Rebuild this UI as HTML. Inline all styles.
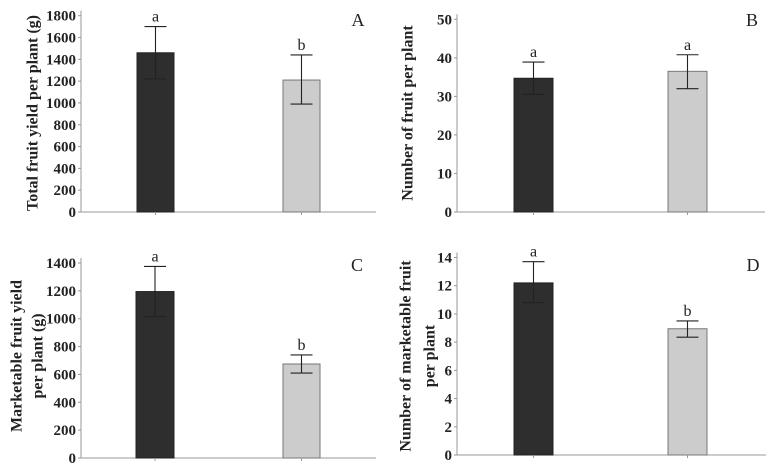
<!DOCTYPE html>
<html><head><meta charset="utf-8">
<style>
html,body{margin:0;padding:0;background:#fff;}
svg{display:block;}
svg text{font-family:"Liberation Serif","DejaVu Serif",serif;}
</style></head>
<body>
<svg id="chart" width="779" height="472" viewBox="0 0 779 472" xmlns="http://www.w3.org/2000/svg"></svg>
<script>
// Panel data (treatment 1 = dark, treatment 2 = light)
const panelIds = ["A","B","C","D"];
const meansA = [1460, 1210];
const lowA = [1220, 990];
const highA = [1700, 1440];
const lettersA = ["a","b"];
const ticksA = [0,200,400,600,800,1000,1200,1400,1600,1800];
const meansB = [34.7, 36.5];
const lowB = [30.5, 32];
const highB = [38.9, 40.8];
const lettersB = ["a","a"];
const ticksB = [0,10,20,30,40,50];
const meansC = [1195, 675];
const lowC = [1015, 610];
const highC = [1375, 740];
const lettersC = ["a","b"];
const ticksC = [0,200,400,600,800,1000,1200,1400];
const meansD = [12.2, 8.95];
const lowD = [10.8, 8.35];
const highD = [13.7, 9.5];
const lettersD = ["a","b"];
const ticksD = [0,2,4,6,8,10,12,14];
const titleA = ["Total fruit yield per plant (g)"];
const titleB = ["Number of fruit per plant"];
const titleC = ["Marketable fruit yield","per plant (g)"];
const titleD = ["Number of marketable fruit","per plant"];

const NS="http://www.w3.org/2000/svg";
const svg=document.getElementById("chart");
function mk(tag,attrs,parent){const e=document.createElementNS(NS,tag);for(const k in attrs)e.setAttribute(k,attrs[k]);(parent||svg).appendChild(e);return e;}

const layout={
 A:{ax:81,axEnd:376,y0:212,yTop:15.7,vTop:1800,bars:[[137,174],[283,320]],lab:[358,26],tx:[33],ty:113},
 B:{ax:457,axEnd:765,y0:212,yTop:19.3,vTop:50,bars:[[514,553],[668,707]],lab:[752,26],tx:[408],ty:113},
 C:{ax:81,axEnd:376,y0:458,yTop:263,vTop:1400,bars:[[136,174],[283,320]],lab:[357,271],tx:[17,38],ty:356},
 D:{ax:457,axEnd:766,y0:455,yTop:257.5,vTop:14,bars:[[514,553],[668,707]],lab:[753,271],tx:[406,430],ty:356}
};
const data={
 A:[meansA,lowA,highA,lettersA,ticksA,titleA],
 B:[meansB,lowB,highB,lettersB,ticksB,titleB],
 C:[meansC,lowC,highC,lettersC,ticksC,titleC],
 D:[meansD,lowD,highD,lettersD,ticksD,titleD]
};
const fills=["#2e2e2e","#cccccc"];
const strokes=["#222","#777"];

panelIds.forEach(id=>{
 const L=layout[id];const [means,low,high,letters,ticks,title]=data[id];
 const g=mk("g",{});
 
 
 const y=v=>L.y0-(v/L.vTop)*(L.y0-L.yTop);
 const ya=mk("line",{x1:L.ax,y1:L.yTop-5,x2:L.ax,y2:L.y0,stroke:"#999","stroke-width":1},g);
 
 
 const xa=mk("line",{x1:L.ax,y1:L.y0,x2:L.axEnd,y2:L.y0,stroke:"#999","stroke-width":1},g);
 
 
 ticks.forEach(t=>{
  const tl=mk("line",{x1:L.ax-3,y1:y(t),x2:L.ax,y2:y(t),stroke:"#999"},g);
  
  
  const tx=mk("text",{x:L.ax-5,y:y(t)+5,"text-anchor":"end","font-size":"15","font-weight":"bold",fill:"#222"},g);
  tx.textContent=t;
  
  
 });
 means.forEach((m,i)=>{
  const [x1,x2]=L.bars[i];const cx=(x1+x2)/2;
  const r=mk("rect",{x:x1,y:y(m),width:x2-x1,height:L.y0-y(m),fill:fills[i],stroke:strokes[i],"stroke-width":1},g);
  
  
  const eb=mk("path",{d:`M${cx},${y(low[i])}V${y(high[i])}M${cx-11},${y(high[i])}H${cx+11}M${cx-11},${y(low[i])}H${cx+11}`,stroke:"#222","stroke-width":1.1,fill:"none"},g);
  
  
  const lt=mk("text",{x:cx,y:y(high[i])-5,"text-anchor":"middle","font-size":"16",fill:"#222"},g);
  lt.textContent=letters[i];
  
  
  const xt=mk("line",{x1:cx,y1:L.y0,x2:cx,y2:L.y0+3,stroke:"#999"},g);
  
  
 });
 const pl=mk("text",{x:L.lab[0],y:L.lab[1],"text-anchor":"middle","font-size":"18",fill:"#222"},g);
 pl.textContent=id;
 
 
 title.forEach((line,k)=>{
  const tx=L.tx[k];
  const t=mk("text",{x:tx,y:L.ty,transform:`rotate(-90 ${tx} ${L.ty})`,"text-anchor":"middle","dominant-baseline":"central","font-size":"16","font-weight":"bold",fill:"#222"},g);
  t.textContent=line;
  
  
 });
});
</script>
</body></html>
